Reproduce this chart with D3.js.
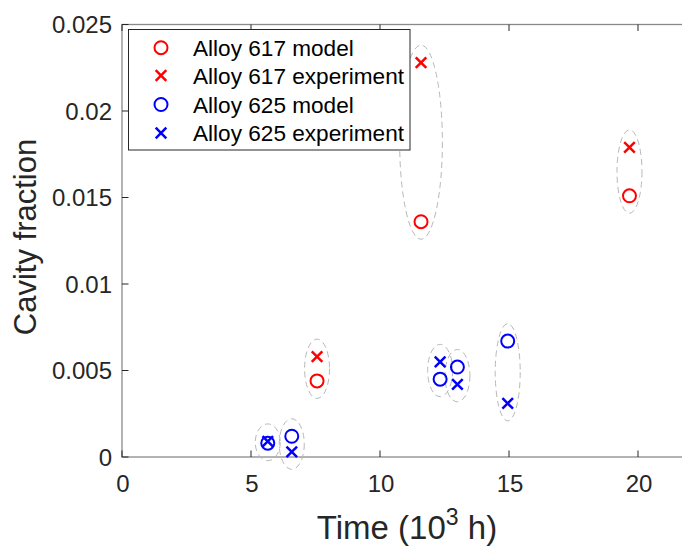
<!DOCTYPE html>
<html>
<head>
<meta charset="utf-8">
<script src="https://cdn.jsdelivr.net/npm/d3@7"></script>
<style>
  html, body { margin: 0; padding: 0; background: #fff; }
  svg { display: block; font-family: "Liberation Sans", Arial, Helvetica, sans-serif; }
</style>
</head>
<body>
<svg id="chart" width="682" height="548"></svg>
<script>
// Cavity fraction vs. time for two alloys (model vs. experiment)
const times617 = [7.56, 11.59, 19.67];
const model617 = [0.0044, 0.0136, 0.0151];
const exper617 = [0.0058, 0.0228, 0.0179];

const times625 = [5.65, 6.58, 12.33, 13.0, 14.95];
const model625 = [0.0008, 0.0012, 0.0045, 0.0052, 0.0067];
const exper625 = [0.0009, 0.0003, 0.0055, 0.0042, 0.0031];

const xTicks = [0, 5, 10, 15, 20];
const yTicks = [0, 0.005, 0.01, 0.015, 0.02, 0.025];
const yTickLabels = ["0", "0.005", "0.01", "0.015", "0.02", "0.025"];

const legendLabels = ["Alloy 617 model", "Alloy 617 experiment", "Alloy 625 model", "Alloy 625 experiment"];

const RED = "#ff0000", BLUE = "#0000ff";

const svg = d3.select("#chart");
const plotLeft = 122, plotTop = 24.5, plotBottom = 457;
const x = d3.scaleLinear().domain([0, 22]).range([plotLeft, plotLeft + 22 * 25.8]);
const y = d3.scaleLinear().domain([0, 0.025]).range([plotBottom, plotTop]);

const boxColor = "#8a8a8a", tickColor = "#262626";

// axes box (right side runs past the window edge)
svg.append("rect")
  .attr("x", x(0)).attr("y", y(0.025))
  .attr("width", x(22) - x(0)).attr("height", y(0) - y(0.025))
  .attr("fill", "none").attr("stroke", boxColor).attr("stroke-width", 1.3);

// inward ticks
const tickLen = 6.5;
const gTicks = svg.append("g").attr("stroke", tickColor).attr("stroke-width", 1);
xTicks.forEach(t => {
  gTicks.append("line").attr("x1", x(t)).attr("x2", x(t)).attr("y1", y(0)).attr("y2", y(0) - tickLen);
  gTicks.append("line").attr("x1", x(t)).attr("x2", x(t)).attr("y1", y(0.025)).attr("y2", y(0.025) + tickLen);
});
yTicks.forEach(t => {
  gTicks.append("line").attr("x1", x(0)).attr("x2", x(0) + tickLen).attr("y1", y(t)).attr("y2", y(t));
});

// tick labels
svg.append("g").selectAll("text").data(xTicks).join("text")
  .attr("x", d => x(d) + 1).attr("y", 492)
  .attr("text-anchor", "middle").attr("font-size", 24).attr("fill", tickColor)
  .text(d => d);
svg.append("g").selectAll("text").data(yTicks).join("text")
  .attr("x", 112).attr("y", d => y(d) + 8.5)
  .attr("text-anchor", "end").attr("font-size", 24).attr("fill", tickColor)
  .text((d, i) => yTickLabels[i]);

// axis titles
svg.append("text")
  .attr("transform", "translate(36,237) rotate(-90)")
  .attr("text-anchor", "middle").attr("font-size", 31).attr("fill", tickColor)
  .text("Cavity fraction");
const xl = svg.append("text")
  .attr("x", 407).attr("y", 539)
  .attr("text-anchor", "middle").attr("font-size", 33).attr("fill", tickColor);
xl.append("tspan").text("Time (10");
xl.append("tspan").attr("font-size", 23).attr("dy", -14).text("3");
xl.append("tspan").attr("dy", 14).text(" h)");

// dashed ellipses grouping each model/experiment pair
function pairs(times, a, b) {
  return times.map((t, i) => ({ t, a: a[i], b: b[i] }));
}
const allPairs = pairs(times617, model617, exper617).concat(pairs(times625, model625, exper625));
svg.append("g").selectAll("ellipse").data(allPairs).join("ellipse")
  .attr("cx", d => x(d.t))
  .attr("cy", d => (y(d.a) + y(d.b)) / 2)
  .attr("ry", d => Math.abs(y(d.a) - y(d.b)) / 2 + 17.5)
  .attr("rx", d => Math.max(12.5, 0.22 * (Math.abs(y(d.a) - y(d.b)) / 2 + 17.5)))
  .attr("fill", "none").attr("stroke", "#b8b8b8").attr("stroke-width", 1)
  .attr("stroke-dasharray", "6,4");

// markers
const R = 6.5, C = 5.3;
function drawCircles(times, vals, color) {
  svg.append("g").selectAll("circle").data(times).join("circle")
    .attr("cx", d => x(d)).attr("cy", (d, i) => y(vals[i])).attr("r", R)
    .attr("fill", "none").attr("stroke", color).attr("stroke-width", 2);
}
function crossPath(cx, cy) {
  return `M${cx - C},${cy - C}L${cx + C},${cy + C}M${cx - C},${cy + C}L${cx + C},${cy - C}`;
}
function drawCrosses(times, vals, color) {
  svg.append("g").selectAll("path").data(times).join("path")
    .attr("d", (d, i) => crossPath(x(d), y(vals[i])))
    .attr("fill", "none").attr("stroke", color).attr("stroke-width", 2.5);
}
drawCircles(times617, model617, RED);
drawCrosses(times617, exper617, RED);
drawCircles(times625, model625, BLUE);
drawCrosses(times625, exper625, BLUE);

// legend
const lg = svg.append("g");
lg.append("rect").attr("x", 128.5).attr("y", 29.5).attr("width", 281.5).attr("height", 120.5)
  .attr("fill", "#fff").attr("stroke", tickColor).attr("stroke-width", 1);
const rowY = [47.7, 75.5, 104.5, 133];
const legendKinds = [["circle", RED], ["cross", RED], ["circle", BLUE], ["cross", BLUE]];
legendLabels.forEach((lab, i) => {
  const [kind, color] = legendKinds[i];
  if (kind === "circle") {
    lg.append("circle").attr("cx", 161).attr("cy", rowY[i]).attr("r", R)
      .attr("fill", "none").attr("stroke", color).attr("stroke-width", 2);
  } else {
    lg.append("path").attr("d", crossPath(161, rowY[i]))
      .attr("fill", "none").attr("stroke", color).attr("stroke-width", 2.5);
  }
  lg.append("text").attr("x", 193).attr("y", rowY[i] + 8).attr("font-size", 22.6)
    .attr("fill", "#000").text(lab);
});
</script>
</body>
</html>
